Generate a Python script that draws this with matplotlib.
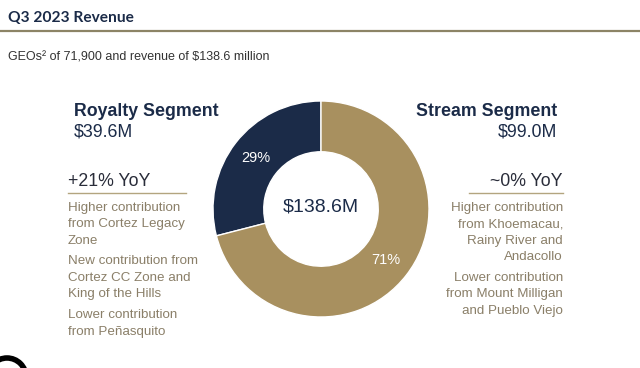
import matplotlib.pyplot as plt
from matplotlib.patches import Circle

W, H = 640, 368

segments = ["Royalty Segment", "Stream Segment"]
revenue = [39.6, 99.0]
shares = [29, 71]
total_label = "$138.6M"
colors = ["#1b2b48", "#a8905f"]

title = "Q3 2023 Revenue"
subtitle = "GEOs\u00b2 of 71,900 and revenue of $138.6 million"
yoy = ["+21% YoY", "~0% YoY"]
royalty_notes = [["Higher contribution", "from Cortez Legacy", "Zone"],
                 ["New contribution from", "Cortez CC Zone and", "King of the Hills"],
                 ["Lower contribution", "from Pe\u00f1asquito"]]
stream_notes = [["Higher contribution", "from Khoemacau,", "Rainy River and", "Andacollo"],
                ["Lower contribution", "from Mount Milligan", "and Pueblo Viejo"]]

navy = "#1b2b48"
note_col = "#8a7f68"
rule_col = "#b3a57f"

plt.rcParams['font.family'] = ['Liberation Sans', 'DejaVu Sans']
fig = plt.figure(figsize=(W / 100, H / 100), dpi=100)

# full-figure axes in pixel coordinates for text
ax = fig.add_axes([0, 0, 1, 1])
ax.set_xlim(0, W)
ax.set_ylim(H, 0)
ax.axis('off')

ax.text(8, 18, title, fontsize=11.2, fontweight='bold', color=navy,
        family=['Lato', 'DejaVu Sans'], va='center', ha='left')
ax.plot([0, W], [31, 31], color="#8c8466", lw=1.6)
ax.text(8, 58, subtitle, fontsize=9.0, color="#333333", va='center', ha='left')


def notes_block(blocks, x, ha):
    y = 208
    for block in blocks:
        for line in block:
            ax.text(x, y, line, fontsize=9.6, color=note_col, va='center', ha=ha)
            y += 16.5
        y += 4


# left block
ax.text(74, 111, segments[0], fontsize=12.8, fontweight='bold', color=navy, va='center')
ax.text(74, 132, f"${revenue[0]:.1f}M", fontsize=12.8, color=navy, va='center')
ax.text(68, 181, yoy[0], fontsize=12.8, color="#2a2d3a", va='center')
ax.plot([68, 186], [193, 193], color=rule_col, lw=1)
notes_block(royalty_notes, 68, 'left')

# right block
ax.text(557, 111, segments[1], fontsize=12.8, fontweight='bold', color=navy,
        va='center', ha='right')
ax.text(557, 132, f"${revenue[1]:.1f}M", fontsize=12.8, color=navy, va='center', ha='right')
ax.text(563, 181, yoy[1], fontsize=12.8, color="#2a2d3a", va='center', ha='right')
ax.plot([469, 563], [193, 193], color=rule_col, lw=1)
notes_block(stream_notes, 563, 'right')

# logo fragment bottom-left
ax.add_patch(Circle((7, 377), 19, facecolor='none', edgecolor='black', lw=4, clip_on=True))

# donut
cx, cy, r = 321, 209, 108
pax = fig.add_axes([(cx - r) / W, (H - cy - r) / H, 2 * r / W, 2 * r / H])
wedges, _, autotexts = pax.pie(shares, colors=colors, startangle=90, counterclock=True,
                               radius=1, autopct='%d%%', pctdistance=0.765,
                               wedgeprops=dict(width=0.47, edgecolor='white', linewidth=1),
                               textprops=dict(color='white', fontsize=10.5))
pax.set_xlim(-1, 1)
pax.set_ylim(-1, 1)
pax.set_aspect('equal')
pax.axis('off')
pax.text(0, 0.02, total_label, ha='center', va='center', fontsize=14, color=navy)

fig.savefig("out.png", dpi=100)
